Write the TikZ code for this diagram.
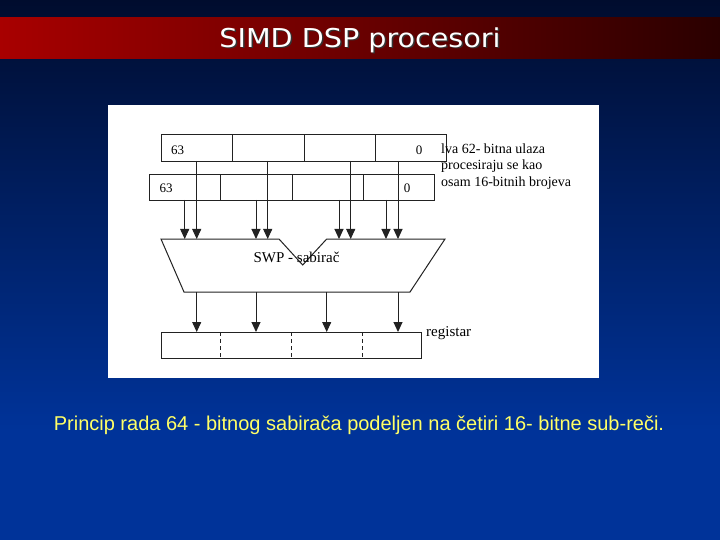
\documentclass[tikz,border=0pt]{standalone}
\usepackage{fontspec}
\setmainfont{Liberation Serif}
\newfontfamily\captionfont{Liberation Sans}
\newfontfamily\titlefont{DejaVu Sans}
\usetikzlibrary{arrows.meta}
\definecolor{bgtop}{HTML}{000C2E}
\definecolor{bgbot}{HTML}{003399}
\definecolor{bandleft}{HTML}{A80000}
\definecolor{bandright}{HTML}{2A0000}
\definecolor{capyellow}{HTML}{FFFF66}
\definecolor{wire}{HTML}{222222}
\tikzset{
  seg/.style={draw=wire, line width=1pt, minimum width=71.25pt, minimum height=27pt, inner sep=0pt, anchor=north west},
  regbox/.style={draw=wire, line width=1pt, inner sep=0pt},
  arr/.style={draw=wire, line width=1pt, -{Triangle[length=10pt,width=9pt]}},
  lbl/.style={font=\fontsize{14}{16}\selectfont, inner sep=0pt, text=black},
  num/.style={font=\fontsize{13}{15}\selectfont, inner sep=0pt, text=black},
  titletext/.style={font=\titlefont\fontsize{26}{30}\selectfont, inner sep=0pt, xscale=1.1},
}
\begin{document}
\begin{tikzpicture}[x=1pt,y=-1pt]
\useasboundingbox (0,0) rectangle (720,540);
% background
\shade[top color=bgtop, bottom color=bgbot] (0,0) rectangle (720,430);
\fill[bgbot] (0,430) rectangle (720,540);
% title band
\shade[left color=bandleft, right color=bandright] (0,17.7) rectangle (720,58.7);
\node[titletext, text=black!80] (titleshadow) at (361.5,41.5) {SIMD DSP procesori};
\node[titletext, text=white] (title) at (360,40) {SIMD DSP procesori};
% white panel
\fill[white] (108,105) rectangle (599,378);
% input register rows
\foreach \i in {0,1,2,3} {
  \node[seg] (ra\i) at ({161+71.25*\i},134) {};
  \node[seg, minimum height=26pt] (rb\i) at ({149+71.25*\i},174) {};
}
\node[num] (n63a) at (177.5,150) {63};
\node[num] (n0a) at (419,150) {0};
\node[num] (n63b) at (166,188) {63};
\node[num] (n0b) at (407,188) {0};
% side text
\node[lbl, anchor=west] (t1) at (441,149) {lva 62- bitna ulaza};
\node[lbl, anchor=west] (t2) at (441,166.5) {procesiraju se kao};
\node[lbl, anchor=west] (t3) at (441,183.5) {osam 16-bitnih brojeva};
% adder
\draw[wire, line width=1pt] (161,239) -- (279,239) -- (302.7,265) -- (326.7,239) -- (445,239) -- (410,292) -- (184,292) -- cycle;
\node[lbl, font=\fontsize{15}{17}\selectfont] (swp) at (296.5,257) {SWP - sabirač};
% output register
\node[regbox, minimum width=260pt, minimum height=26pt, anchor=north west] (reg) at (161,332) {};
\foreach \x in {220.3,291,362} {
  \draw[wire, line width=1pt, dash pattern=on 4pt off 3pt] (\x,332) -- (\x,358);
}
\node[lbl, font=\fontsize{15}{17}\selectfont, anchor=west] (regl) at (426,333) {registar};
% input arrows
\foreach \n/\x in {1/196.7,2/267.7,3/350.7,4/398} {
  \coordinate (as\n) at (\x,161);
  \coordinate (ae\n) at (\x,239);
  \draw[arr] (as\n) -- (ae\n);
}
\foreach \n/\x in {1/184.7,2/256,3/339,4/386} {
  \coordinate (bs\n) at (\x,200);
  \coordinate (be\n) at (\x,239);
  \draw[arr] (bs\n) -- (be\n);
}
% output arrows
\foreach \n/\x in {1/196.7,2/256,3/326.7,4/398} {
  \coordinate (cs\n) at (\x,292);
  \coordinate (ce\n) at (\x,332);
  \draw[arr] (cs\n) -- (ce\n);
}
% caption
\node[font=\captionfont\fontsize{20}{24}\selectfont, text=capyellow, inner sep=0pt] (cap) at (359,425) {Princip rada 64 - bitnog sabirača podeljen na četiri 16- bitne sub-reči.};
\end{tikzpicture}
\end{document}
